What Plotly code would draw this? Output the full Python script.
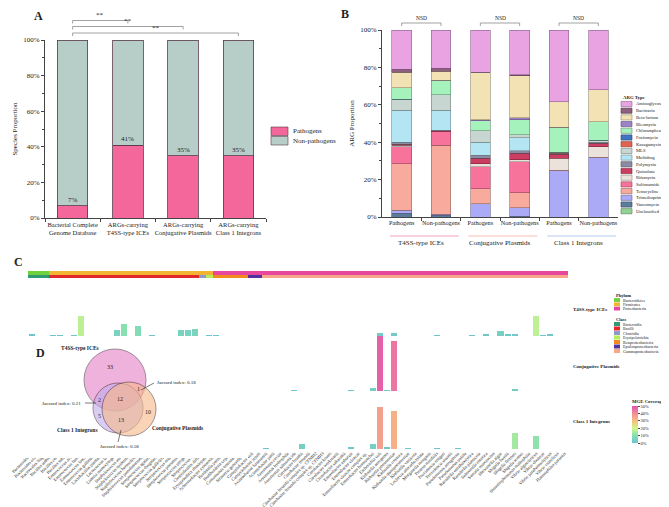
import plotly.graph_objects as go

W, H = 669, 507
FONT = "Liberation Serif"
TXT = "#222222"

def fx(x):
    return x / W

def fy(y):
    return 1 - y / H

def darken(hexc, f=0.72):
    r, g, b = int(hexc[1:3], 16), int(hexc[3:5], 16), int(hexc[5:7], 16)
    return f"rgb({int(r*f)},{int(g*f)},{int(b*f)})"

# ---------------- Panel A data ----------------
a_categories = ["Bacterial Complete<br>Genome Database", "ARGs-carrying<br>T4SS-type ICEs",
                "ARGs-carrying<br>Conjugative Plasmids", "ARGs-carrying<br>Class 1 Integrons"]
a_pathogens = [7, 41, 35, 35]
a_non_pathogens = [93, 59, 65, 65]
a_pct_labels = ["7%", "41%", "35%", "35%"]
a_sig_targets = [1, 2, 3]
a_sig_text = ["**", "**", "**"]
a_series = ["Pathogens", "Non-pathogens"]
a_colors = ["#f4679a", "#b6cec7"]

# ---------------- Panel B data ----------------
b_labels = ["Pathogens", "Non-pathogens", "Pathogens", "Non-pathogens", "Pathogens", "Non-pathogens"]
b_groups = ["T4SS-type ICEs", "Conjugative Plasmids", "Class 1 Integrons"]
b_group_line_colors = ["#f4a3bd", "#f5bcae", "#b9c9f0"]
b_nsd = ["NSD", "NSD", "NSD"]
arg_types = ["Aminoglycoside", "Bacitracin", "Beta-lactam", "Bleomycin", "Chloramphenicol",
             "Fosfomycin", "Kasugamycin", "MLS", "Multidrug", "Polymyxin", "Quinolone",
             "Rifamycin", "Sulfonamide", "Tetracycline", "Trimethoprim", "Vancomycin", "Unclassified"]
arg_colors = ["#e9a3e3", "#8f5f80", "#f3e2b3", "#9c83c8", "#a6f2bd", "#4273c0", "#e2624f",
              "#c8d6d2", "#b3e5f2", "#8d8ba3", "#cc3d62", "#ebe3db", "#f8739b", "#f8aa9d",
              "#aaaaf7", "#5c7c9c", "#92d394"]
# columns: T4SS P, T4SS NP, Conj P, Conj NP, Int P, Int NP  (percent)
aminoglycoside  = [21.0, 20.5, 22.5, 24.0, 38.5, 32.0]
bacitracin      = [1.5, 1.5, 0.0, 0.5, 0.0, 0.0]
beta_lactam     = [8.5, 5.0, 25.5, 22.5, 13.5, 17.0]
bleomycin       = [0.0, 0.0, 0.5, 1.0, 0.0, 0.0]
chloramphenicol = [6.0, 7.5, 5.5, 8.0, 13.5, 10.0]
fosfomycin      = [0.0, 0.0, 0.0, 0.0, 0.0, 0.0]
kasugamycin     = [0.0, 0.0, 0.0, 0.0, 0.5, 0.0]
mls             = [6.0, 8.5, 6.0, 1.5, 0.0, 1.0]
multidrug       = [17.0, 10.5, 7.0, 7.0, 0.0, 0.0]
polymyxin       = [1.0, 0.0, 1.5, 1.5, 0.5, 0.5]
quinolone       = [0.5, 1.0, 3.0, 3.5, 2.0, 2.0]
rifamycin       = [1.0, 0.0, 1.5, 1.0, 6.5, 5.5]
sulfonamide     = [9.0, 7.0, 12.0, 16.5, 0.0, 0.0]
tetracycline    = [25.0, 37.0, 8.0, 8.0, 0.0, 0.0]
trimethoprim    = [1.5, 0.5, 7.0, 4.5, 25.0, 32.0]
vancomycin      = [2.0, 1.0, 0.0, 0.5, 0.0, 0.0]
unclassified    = [0.0, 0.0, 0.0, 0.0, 0.0, 0.0]
arg_values = [aminoglycoside, bacitracin, beta_lactam, bleomycin, chloramphenicol, fosfomycin,
              kasugamycin, mls, multidrug, polymyxin, quinolone, rifamycin, sulfonamide,
              tetracycline, trimethoprim, vancomycin, unclassified]

# ---------------- Panel C data ----------------
phyla = ["Bacteroidetes", "Firmicutes", "Proteobacteria"]
phylum_colors = ["#6fd13b", "#f2b431", "#e8479e"]
classes = ["Bacteroidia", "Bacilli", "Clostridia", "Erysipelotrichia",
           "Betaproteobacteria", "Epsilonproteobacteria", "Gammaproteobacteria"]
class_colors = ["#2f9a73", "#e3262a", "#8c9bc8", "#b5ee5a", "#f28a1e", "#5032a0", "#f7a88a"]
class_phylum = ["Bacteroidetes", "Firmicutes", "Firmicutes", "Firmicutes",
                "Proteobacteria", "Proteobacteria", "Proteobacteria"]
class_species_counts = [3, 21, 1, 1, 5, 2, 43]
species = [
    "Bacteroides sp.", "Bacteroides ovatus", "Bacteroides fragilis",
    "Bacillus anthracis", "Bacillus cereus", "Bacillus subtilis", "Enterococcus avium",
    "Enterococcus faecalis", "Enterococcus faecium", "Enterococcus gallinarum",
    "Lactobacillus plantarum", "Lactococcus lactis", "Listeria monocytogenes",
    "Staphylococcus aureus", "Staphylococcus epidermidis", "Staphylococcus haemolyticus",
    "Staphylococcus pseudintermedius", "Streptococcus agalactiae", "Streptococcus dysgalactiae",
    "Streptococcus gallolyticus", "Streptococcus mutans", "Streptococcus pneumoniae",
    "Streptococcus pyogenes", "Streptococcus suis",
    "Clostridioides difficile",
    "Erysipelothrix rhusiopathiae",
    "Achromobacter xylosoxidans", "Bordetella pertussis", "Burkholderia cepacia",
    "Comamonas testosteroni", "Neisseria gonorrhoeae",
    "Campylobacter coli", "Campylobacter jejuni",
    "Acinetobacter baumannii", "Acinetobacter pittii", "Aeromonas caviae",
    "Aeromonas hydrophila", "Aeromonas salmonicida", "Citrobacter braakii",
    "Citrobacter freundii", "Citrobacter freundii complex sp. CFNIH2",
    "Citrobacter freundii complex sp. CFNIH3", "Citrobacter koseri", "Citrobacter werkmanii",
    "Cronobacter sakazakii", "Enterobacter asburiae", "Enterobacter cloacae",
    "Enterobacter cloacae complex sp.", "Enterobacter hormaechei", "Escherichia coli",
    "Klebsiella aerogenes", "Klebsiella pneumoniae", "Klebsiella oxytoca",
    "Klebsiella quasipneumoniae", "Klebsiella variicola", "Leclercia adecarboxylata",
    "Morganella morganii", "Proteus mirabilis", "Providencia rettgeri", "Providencia stuartii",
    "Pseudomonas aeruginosa", "Pseudomonas putida", "Raoultella ornithinolytica",
    "Raoultella planticola", "Salmonella enterica", "Serratia marcescens", "Shewanella algae",
    "Shigella boydii", "Shigella flexneri", "Shigella sonnei", "Stenotrophomonas maltophilia",
    "Vibrio alginolyticus", "Vibrio cholerae", "Vibrio parahaemolyticus", "Vibrio vulnificus",
    "Haemophilus parasuis",
]
# MGE coverage (%) per species
t4ss_coverage = [
    1.0, 0, 0, 0.8, 0.8, 0, 0.8, 17, 0, 0,
    0, 0, 5, 10, 0, 8.5, 0, 0.5, 0, 0,
    0, 5, 5, 6, 0, 0.5, 0.8, 0, 0, 0,
    0, 0, 0, 0, 0, 0, 0, 0, 0, 0,
    0, 0, 0, 0, 0, 0, 0, 0, 0, 2.5,
    0, 2.5, 0, 0, 0, 0, 0, 0.8, 0, 0,
    0, 0, 0.5, 0, 1.5, 0, 4, 1.5, 2, 0,
    0, 17, 0.8, 1.5, 0, 0]
conj_coverage = [
    0, 0, 0, 0, 0, 0, 0, 0, 0, 0,
    0, 0, 0, 0, 0, 0, 0, 0, 0, 0,
    0, 0, 0, 0, 0, 0, 0, 0, 0, 0,
    0, 0.5, 0.8, 0, 0, 0, 0, 1.0, 0, 0,
    0, 0, 0, 0, 0, 1.5, 0, 0, 3.5, 48,
    1.0, 44, 0, 0.8, 0.5, 0, 0, 0.5, 0, 0,
    0.5, 0, 0, 0, 0, 0, 0, 0, 2.5, 0,
    0, 0, 0, 0, 0, 0]
int_coverage = [
    0, 0, 0, 0, 0, 0, 0, 0, 0, 0,
    0, 0, 0, 0, 0, 0, 0, 0, 0, 0,
    0, 0, 0, 0, 0, 0, 0, 0, 0, 0,
    0, 0, 0, 0.5, 0, 0, 0, 0, 4, 0,
    0, 0, 0, 0, 0, 1.5, 0, 0, 4, 36,
    2, 33, 0, 0.8, 0, 0, 0, 0.8, 0, 0,
    0.8, 0, 0, 0, 0, 0, 0, 0, 14, 0,
    0, 11, 0, 0, 0, 0]
mge_rows = ["T4SS-type ICEs", "Conjugative Plasmids", "Class 1 Integrons"]
coverage_ticks = [0, 10, 20, 30, 40, 50]
coverage_scale = [[0.0, "#6cc3cf"], [0.2, "#86e0b0"], [0.4, "#d4f58a"],
                  [0.6, "#f5bf80"], [0.8, "#f28c98"], [1.0, "#e055b0"]]

# ---------------- Panel D data ----------------
venn_sets = ["T4SS-type ICEs", "Class 1 Integrons", "Conjugative Plasmids"]
venn_counts = [33, 2, 12, 1, 5, 13, 10]
jaccard = [0.18, 0.21, 0.58]

fig = go.Figure()

# ---------- Panel A ----------
for name, vals, col in zip(a_series, [a_pathogens, a_non_pathogens], a_colors):
    fig.add_trace(go.Bar(x=a_categories, y=vals, name=name,
                         marker=dict(color=col, line=dict(color="#5a3a48", width=0.8)),
                         width=0.55, xaxis="x", yaxis="y", showlegend=False))

# ---------- Panel B ----------
b_x = list(range(len(b_labels)))
for name, vals, col in reversed(list(zip(arg_types, arg_values, arg_colors))):
    fig.add_trace(go.Bar(x=b_x, y=vals, name=name,
                         marker=dict(color=col, line=dict(color=darken(col, 0.6), width=0.6)),
                         width=0.5, xaxis="x2", yaxis="y2", showlegend=False))

# ---------- Panel C strips ----------
species_class = []
for c, n in zip(classes, class_species_counts):
    species_class += [c] * n
sp_phylum_colors = [phylum_colors[phyla.index(class_phylum[classes.index(c)])] for c in species_class]
sp_class_colors = [class_colors[classes.index(c)] for c in species_class]
fig.add_trace(go.Bar(x=species, y=[1] * len(species), marker=dict(color=sp_phylum_colors, line=dict(width=0)),
                     width=1.0, xaxis="x3", yaxis="y3", showlegend=False))
fig.add_trace(go.Bar(x=species, y=[1] * len(species), marker=dict(color=sp_class_colors, line=dict(width=0)),
                     width=1.0, xaxis="x3", yaxis="y4", showlegend=False))

for i, (vals, yax) in enumerate(zip([t4ss_coverage, conj_coverage, int_coverage], ["y5", "y6", "y7"])):
    mk = dict(color=vals, colorscale=coverage_scale, cmin=0, cmax=50, line=dict(width=0))
    if i == 1:
        mk["showscale"] = True
        mk["colorbar"] = dict(
            x=fx(624), xanchor="left", y=fy(435), yanchor="bottom", len=47 / H, lenmode="fraction",
            thickness=6, outlinewidth=0, xpad=0, ypad=0,
            tickvals=coverage_ticks, ticktext=[f"{v}%" for v in coverage_ticks],
            ticks="outside", ticklen=2, tickwidth=0.6, tickcolor="#444",
            tickfont=dict(family=FONT, size=4.5, color=TXT),
            title=dict(text="<b>MGE Coverage</b>", side="top", font=dict(family=FONT, size=4.8, color=TXT)))
    fig.add_trace(go.Bar(x=species, y=vals, marker=mk, width=0.85, xaxis="x3", yaxis=yax, showlegend=False))

# ---------- Layout axes ----------
axis_line = dict(showline=True, linecolor="#444", linewidth=0.8, showgrid=False, zeroline=False)
tickf = dict(family=FONT, size=6.5, color=TXT)
pct_ticks = [0, 20, 40, 60, 80, 100]

layout = dict(
    width=W, height=H, margin=dict(l=0, r=0, t=0, b=0, autoexpand=False),
    paper_bgcolor="white", plot_bgcolor="white", barmode="stack",
    font=dict(family=FONT, color=TXT),
    xaxis=dict(domain=[fx(37), fx(258)], anchor="y", type="category", ticks="outside", tickson="boundaries",
               ticklen=3, tickcolor="#444", tickfont=tickf, tickangle=0, automargin=False, **axis_line),
    yaxis=dict(domain=[fy(210), fy(32)], anchor="x", range=[0, 100], tickvals=pct_ticks,
               ticktext=[f"{v}%" for v in pct_ticks], ticks="outside", ticklen=3, tickcolor="#444",
               minor=dict(ticks="outside", dtick=10, ticklen=2, tickcolor="#444"), automargin=False,
               tickfont=dict(family=FONT, size=7, color=TXT),
               title=dict(text="Species Proportion", font=dict(family=FONT, size=7), standoff=4),
               **axis_line),
    xaxis2=dict(domain=[fx(374), fx(610)], anchor="y2", range=[-0.5, 5.5], tickmode="array", tickvals=b_x,
                ticktext=b_labels, ticks="", tickfont=dict(family=FONT, size=6.2, color=TXT), tickangle=0,
                automargin=False,
                minor=dict(tickmode="array", tickvals=[0.5, 1.5, 2.5, 3.5, 4.5], ticks="outside", ticklen=3,
                           tickcolor="#444"),
                **axis_line),
    yaxis2=dict(domain=[fy(209), fy(22)], anchor="x2", range=[0, 100], tickvals=pct_ticks,
                ticktext=[f"{v}%" for v in pct_ticks], ticks="outside", ticklen=3, tickcolor="#444",
                minor=dict(ticks="outside", dtick=10, ticklen=2, tickcolor="#444"), automargin=False,
                tickfont=dict(family=FONT, size=7, color=TXT),
                title=dict(text="ARG Proportion", font=dict(family=FONT, size=7), standoff=4),
                **axis_line),
    xaxis3=dict(domain=[fx(20), fx(560)], anchor="y7", type="category", range=[-0.5, len(species) - 0.5],
                tickmode="array", tickvals=species, ticktext=species, tickangle=-45, ticks="",
                automargin=False,
                tickfont=dict(family=FONT, size=4.5, color=TXT), showline=False, showgrid=False, zeroline=False),
    yaxis3=dict(domain=[fy(267), fy(263)], anchor="x3", range=[0, 1], visible=False),
    yaxis4=dict(domain=[fy(271), fy(267)], anchor="x3", range=[0, 1], visible=False),
    yaxis5=dict(domain=[fy(328), fy(270)], anchor="x3", range=[0, 50], visible=False),
    yaxis6=dict(domain=[fy(384), fy(326)], anchor="x3", range=[0, 50], visible=False),
    yaxis7=dict(domain=[fy(441), fy(383)], anchor="x3", range=[0, 50], visible=False),
    xaxis8=dict(domain=[0, fx(240)], anchor="y8", range=[0, 240], visible=False),
    yaxis8=dict(domain=[fy(450), fy(330)], anchor="x8", range=[450, 330], visible=False),
)

shapes = []
ann = []

def label(x, y, text, size=7, bold=False, xanchor="center", yanchor="middle", ref=("paper", "paper"), color=TXT):
    ann.append(dict(x=x, y=y, xref=ref[0], yref=ref[1], text=f"<b>{text}</b>" if bold else text,
                    showarrow=False, xanchor=xanchor, yanchor=yanchor,
                    font=dict(family=FONT, size=size, color=color)))

# panel letters
label(fx(30), fy(8), "A", size=12, bold=True)
label(fx(337), fy(6), "B", size=12, bold=True)
label(fx(10), fy(254), "C", size=12, bold=True)
label(fx(32), fy(345), "D", size=12, bold=True)

# Panel A: percent labels
for cat, v, t in zip(a_categories, a_pathogens, a_pct_labels):
    label(cat, v, t, size=7, yanchor="bottom", ref=("x", "y"))

# Panel A: significance brackets
a_levels = [12.5, 18.5, 25]
for k, lvl, t in zip(a_sig_targets, a_levels, a_sig_text):
    gc = "#8a8a8a"
    shapes.append(dict(type="line", xref="x", yref="paper", x0=0, x1=k, y0=fy(lvl), y1=fy(lvl),
                       line=dict(color=gc, width=0.8)))
    for xe in (0, k):
        shapes.append(dict(type="line", xref="x", yref="paper", x0=xe, x1=xe, y0=fy(lvl), y1=fy(lvl + 3),
                           line=dict(color=gc, width=0.8)))
    label(k / 2, fy(lvl + 0.5), t, size=7, yanchor="bottom", ref=("x", "paper"))

# Panel A legend
for i, (name, col) in enumerate(zip(a_series, a_colors)):
    y0 = 119 + i * 9.5
    shapes.append(dict(type="rect", xref="paper", yref="paper", x0=fx(263), x1=fx(280), y0=fy(y0 + 8.5), y1=fy(y0),
                       fillcolor=col, line=dict(color="#5a3a48", width=0.6)))
    label(fx(283), fy(y0 + 4.2), name, size=7, xanchor="left")

# Panel B: NSD brackets and group labels
for g in range(3):
    xa, xb = 2 * g, 2 * g + 1
    gc = "#8a8a8a"
    shapes.append(dict(type="line", xref="x2", yref="paper", x0=xa, x1=xb, y0=fy(15), y1=fy(15),
                       line=dict(color=gc, width=0.8)))
    for xe in (xa, xb):
        shapes.append(dict(type="line", xref="x2", yref="paper", x0=xe, x1=xe, y0=fy(15), y1=fy(18),
                           line=dict(color=gc, width=0.8)))
    label(xa + 0.5, fy(10), b_nsd[g], size=5.5, ref=("x2", "paper"))
    shapes.append(dict(type="line", xref="x2", yref="paper", x0=xa - 0.3, x1=xb + 0.45, y0=fy(228), y1=fy(228),
                       line=dict(color=b_group_line_colors[g], width=1)))
    label(xa + 0.5, fy(235), b_groups[g], size=7, ref=("x2", "paper"))

# Panel B legend
label(fx(613), fy(89), "ARG Type", size=4.8, bold=True, xanchor="left")
for i, (name, col) in enumerate(zip(arg_types, arg_colors)):
    yc = 96 + i * 6.7
    shapes.append(dict(type="rect", xref="paper", yref="paper", x0=fx(613), x1=fx(624), y0=fy(yc + 2.6),
                       y1=fy(yc - 2.6), fillcolor=col, line=dict(color=darken(col, 0.6), width=0.6)))
    label(fx(626), fy(yc), name, size=4.6, xanchor="left")

# Panel C legends
label(fx(606), fy(287), "Phylum", size=4.5, bold=True, xanchor="left")
for i, (name, col) in enumerate(zip(phyla, phylum_colors)):
    yc = 292 + i * 4.3
    shapes.append(dict(type="rect", xref="paper", yref="paper", x0=fx(606), x1=fx(612), y0=fy(yc + 1.9),
                       y1=fy(yc - 1.9), fillcolor=col, line=dict(width=0)))
    label(fx(613), fy(yc), name, size=4, xanchor="left")
label(fx(606), fy(311), "Class", size=4.5, bold=True, xanchor="left")
for i, (name, col) in enumerate(zip(classes, class_colors)):
    yc = 316 + i * 4.5
    shapes.append(dict(type="rect", xref="paper", yref="paper", x0=fx(606), x1=fx(612), y0=fy(yc + 2.0),
                       y1=fy(yc - 2.0), fillcolor=col, line=dict(width=0)))
    label(fx(613), fy(yc), name, size=4, xanchor="left")

for name, yc in zip(mge_rows, [301, 358, 413]):
    label(fx(563), fy(yc), name, size=5, bold=True, xanchor="left")

# Panel D: Venn diagram (axis units = pixels)
venn_geom = [((107, 372), 31, "#e67fc6"), ((110, 400), 25, "#c1adec"), ((121, 401), 27, "#f6b987")]
for (cx, cy), r, col in venn_geom:
    shapes.append(dict(type="circle", xref="x8", yref="y8", x0=cx - r, x1=cx + r, y0=cy - r, y1=cy + r,
                       fillcolor=col, opacity=0.6, line=dict(color="#3a1f2c", width=0.8), layer="above"))
venn_count_pos = [(102, 359), (91, 392), (112, 391), (130, 381), (91, 408), (113, 412), (140, 404)]
for (vx, vy), cnt in zip(venn_count_pos, venn_counts):
    label(vx, vy, str(cnt), size=6, ref=("x8", "y8"))
label(72, 340, venn_sets[0], size=5.5, bold=True, ref=("x8", "y8"))
label(69, 422, venn_sets[1], size=5.5, bold=True, ref=("x8", "y8"))
label(169, 420, venn_sets[2], size=5.5, bold=True, ref=("x8", "y8"))
jac_geom = [((147, 374), (146, 375), (133, 382), "left"), ((75, 395), (77, 395), (88, 395), "right"),
            ((111, 438), (110, 434), (113, 422), "center")]
for (tpos, l0, l1, anc), jv in zip(jac_geom, jaccard):
    shapes.append(dict(type="line", xref="x8", yref="y8", x0=l0[0], y0=l0[1], x1=l1[0], y1=l1[1],
                       line=dict(color="#222", width=0.6), layer="above"))
    label(tpos[0], tpos[1], f"Jaccard index: {jv:.2f}", size=5, xanchor=anc, ref=("x8", "y8"))

layout["shapes"] = shapes
layout["annotations"] = ann
fig.update_layout(**layout)
fig.write_html("out.html")
